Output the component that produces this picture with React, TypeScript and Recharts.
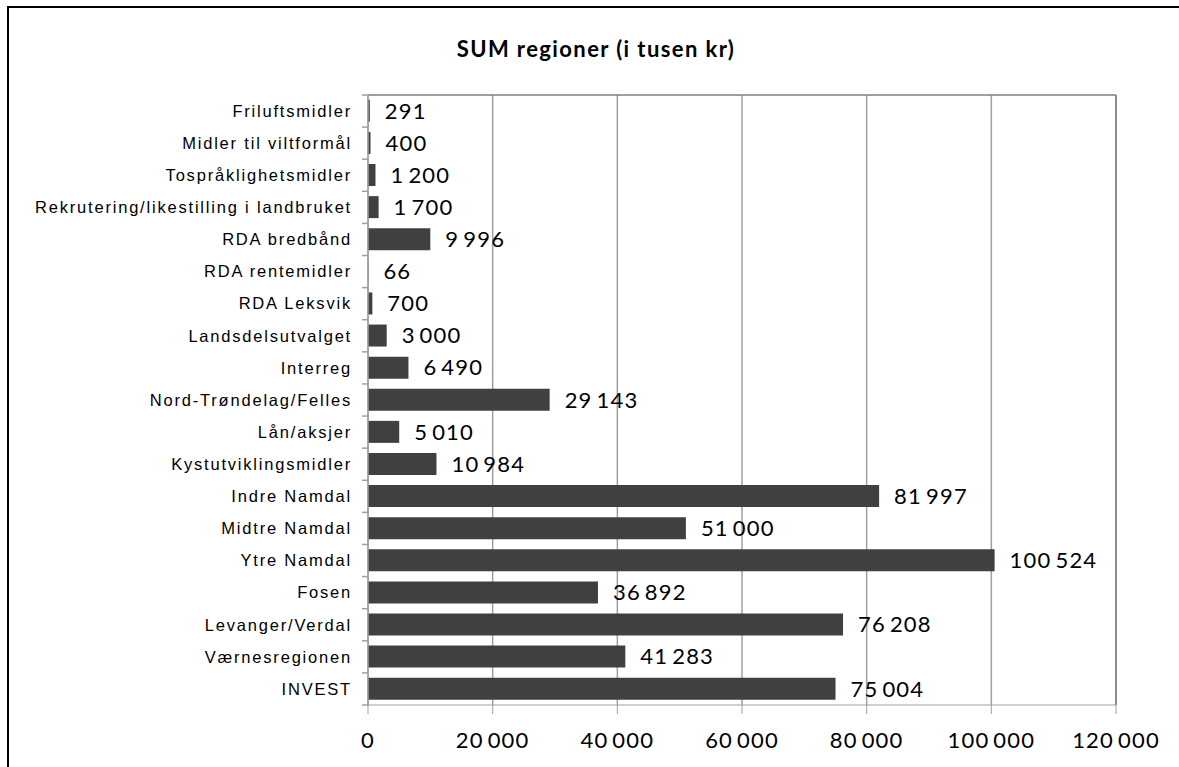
import React from "react";
import {
  BarChart,
  Bar,
  XAxis,
  YAxis,
  CartesianGrid,
  LabelList,
  ReferenceLine,
} from "recharts";

const categories = [
  "Friluftsmidler",
  "Midler til viltformål",
  "Tospråklighetsmidler",
  "Rekrutering/likestilling i landbruket",
  "RDA bredbånd",
  "RDA rentemidler",
  "RDA Leksvik",
  "Landsdelsutvalget",
  "Interreg",
  "Nord-Trøndelag/Felles",
  "Lån/aksjer",
  "Kystutviklingsmidler",
  "Indre Namdal",
  "Midtre Namdal",
  "Ytre Namdal",
  "Fosen",
  "Levanger/Verdal",
  "Værnesregionen",
  "INVEST",
];

const values = [
  291, 400, 1200, 1700, 9996, 66, 700, 3000, 6490, 29143, 5010, 10984, 81997,
  51000, 100524, 36892, 76208, 41283, 75004,
];

const xTicks = [0, 20000, 40000, 60000, 80000, 100000, 120000];
const xMax = 120000;

const title = "SUM regioner (i tusen kr)";

const data = categories.map((name, i) => ({ name, value: values[i] }));

const fmt = (v: number) =>
  String(v).replace(/\B(?=(\d{3})+(?!\d))/g, "\u2009");

const numFont = "Lato, 'Open Sans', sans-serif";
const catFont = "'Liberation Sans', Arial, sans-serif";

const TICK_SIZE = 6;
const TICK_MARGIN = 12;

const CatTick = (props: any) => {
  const { x, y, payload, index } = props;
  const half = payload && payload.offset ? payload.offset : 0;
  const axisX = x + TICK_MARGIN + TICK_SIZE;
  return (
    <g>
      <line
        x1={axisX - TICK_SIZE}
        x2={axisX}
        y1={y - half}
        y2={y - half}
        stroke="#a0a0a0"
        strokeWidth={1.5}
      />
      {index === categories.length - 1 && (
        <line
          x1={axisX - TICK_SIZE}
          x2={axisX}
          y1={y + half}
          y2={y + half}
          stroke="#a0a0a0"
          strokeWidth={1.5}
        />
      )}
      <text
        x={x + 2}
        y={y}
        dy="0.35em"
        textAnchor="end"
        fill="#000"
        fontFamily={catFont}
        fontSize={16.5}
        letterSpacing={1.8}
      >
        {payload.value}
      </text>
    </g>
  );
};

export default function App() {
  return (
    <div
      style={{
        position: "absolute",
        left: 0,
        top: 0,
        width: 1179,
        height: 767,
        overflow: "hidden",
        background: "#fff",
      }}
    >
      <div
        style={{
          position: "absolute",
          left: 7,
          top: 6,
          width: 1300,
          height: 900,
          border: "2px solid #000",
          boxSizing: "border-box",
        }}
      />
      <div
        style={{
          position: "absolute",
          left: 0,
          width: 1192,
          top: 35,
          textAlign: "center",
          fontFamily: numFont,
          fontWeight: 700,
          fontSize: 22,
          letterSpacing: 1.4,
          color: "#000",
        }}
      >
        {title}
      </div>
      <div style={{ position: "absolute", left: 0, top: 0 }}>
        <BarChart
          width={1179}
          height={767}
          layout="vertical"
          data={data}
          margin={{ top: 95, right: 63, bottom: 22, left: 8 }}
          barCategoryGap="15%"
        >
          <CartesianGrid
            horizontal={false}
            vertical={true}
            stroke="#a0a0a0"
            strokeWidth={1.5}
          />
          <XAxis
            type="number"
            domain={[0, xMax]}
            ticks={xTicks}
            interval={0}
            tickFormatter={fmt}
            tickSize={9}
            tickMargin={18}
            height={40}
            stroke="#a0a0a0"
            tick={{
              fill: "#000",
              fontFamily: numFont,
              fontSize: 22,
              letterSpacing: 1.2,
            }}
            allowDataOverflow
          />
          <YAxis
            type="category"
            dataKey="name"
            interval={0}
            width={360}
            axisLine={{ stroke: "#a0a0a0", strokeWidth: 1.5 }}
            tickLine={false}
            tickSize={TICK_SIZE}
            tickMargin={TICK_MARGIN}
            tick={<CatTick />}
          />
          <ReferenceLine
            y={categories[0]}
            position="start"
            stroke="#7f7f7f"
            strokeWidth={1.5}
            ifOverflow="visible"
          />
          <ReferenceLine
            x={xMax}
            stroke="#7f7f7f"
            strokeWidth={1.5}
            ifOverflow="visible"
          />
          <Bar dataKey="value" fill="#404040" isAnimationActive={false}>
            <LabelList
              dataKey="value"
              position="right"
              offset={15}
              formatter={(v: any) => fmt(Number(v))}
              style={{
                fill: "#000",
                fontFamily: numFont,
                fontSize: 22,
                letterSpacing: 1.2,
              }}
            />
          </Bar>
        </BarChart>
      </div>
    </div>
  );
}
